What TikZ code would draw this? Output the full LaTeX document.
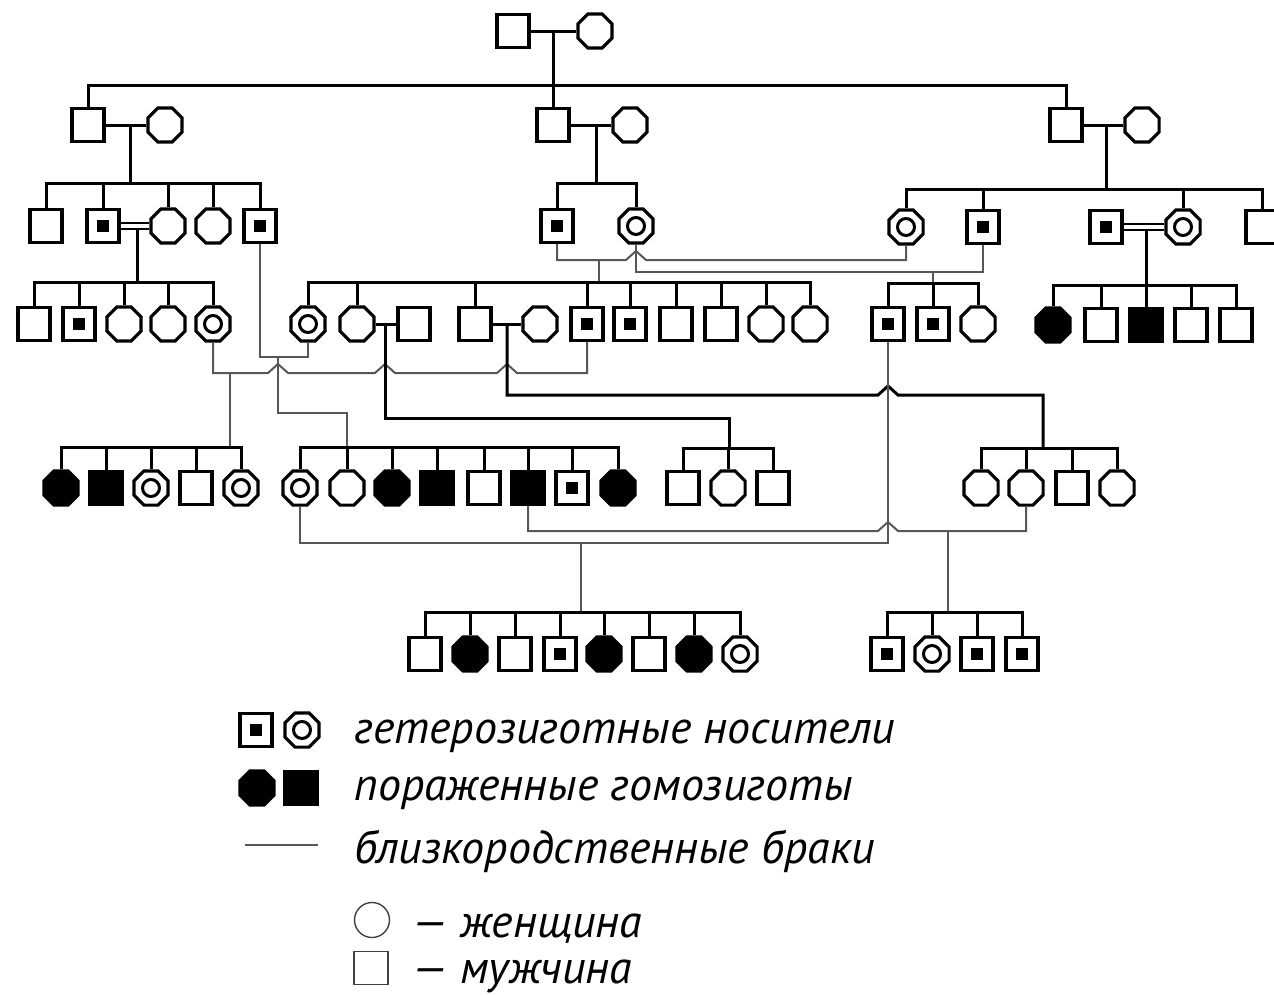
\documentclass[tikz,border=0pt]{standalone}
\usepackage{fontspec}
\setmainfont{PT Sans}
\usetikzlibrary{shapes.geometric}
% drops from a sibship line down to each child
\newcommand\pedDrops[2]{\foreach \c in {#2}{\draw[bl] (\c.north) -- (\c.north |- #1);}}
\begin{document}
\begin{tikzpicture}[x=1pt,y=-1pt,line join=miter,
  mal/.style={draw, rectangle, line width=3.2pt, minimum width=32pt, minimum height=33pt, inner sep=0pt, fill=white},
  fem/.style={draw, regular polygon, regular polygon sides=8, line width=3.2pt, minimum size=37pt, inner sep=0pt, fill=white},
  carm/.style={mal, path picture={\fill[black] (path picture bounding box.center) +(-6pt,-6pt) rectangle +(6pt,6pt);}},
  carf/.style={fem, path picture={\draw[line width=3pt] (path picture bounding box.center) circle (8.5pt); \fill (path picture bounding box.center) circle (5pt);}},
  affm/.style={mal, fill=black},
  afff/.style={fem, fill=black},
  bl/.style={line width=3pt, black},
  kin/.style={line width=2pt, black!66},
  dbl/.style={line width=2.2pt, double=white, double distance=3.2pt},
  lg/.style={anchor=base west, inner sep=0pt, font=\fontsize{46pt}{54pt}\selectfont\itshape}]
\useasboundingbox (0,0) rectangle (1274,994);

% ---------- generation I
\node[mal] (I1) at (513,31) {};
\node[fem] (I2) at (595,31) {};
% ---------- generation II
\node[mal] (IIa) at (88,125) {};
\node[fem] (IIb) at (165,125) {};
\node[mal] (IIc) at (553,125) {};
\node[fem] (IId) at (630,125) {};
\node[mal] (IIe) at (1066,125) {};
\node[fem] (IIf) at (1142,125) {};
% ---------- generation III
\node[mal]  (IIIa) at (46,226) {};
\node[carm] (IIIb) at (103,226) {};
\node[fem]  (IIIc) at (168,226) {};
\node[fem]  (IIId) at (213,226) {};
\node[carm] (IIIe) at (260,226) {};
\node[carm] (IIIf) at (557,226) {};
\node[carf] (IIIg) at (636,226) {};
\node[carf] (IIIh) at (906,227) {};
\node[carm] (IIIi) at (983,227) {};
\node[carm] (IIIj) at (1106,227) {};
\node[carf] (IIIk) at (1183,227) {};
\node[mal]  (IIIl) at (1262,227) {};
% ---------- generation IV
\node[mal]  (IVa) at (34,324) {};
\node[carm] (IVb) at (79,324) {};
\node[fem]  (IVc) at (124,324) {};
\node[fem]  (IVd) at (168,324) {};
\node[carf] (IVe) at (213,324) {};
\node[carf] (IVf) at (308,324) {};
\node[fem]  (IVg) at (357,324) {};
\node[mal]  (IVh) at (414,324) {};
\node[mal]  (IVi) at (475,324) {};
\node[fem]  (IVj) at (540,324) {};
\node[carm] (IVk) at (587,324) {};
\node[carm] (IVl) at (630,324) {};
\node[mal]  (IVm) at (676,324) {};
\node[mal]  (IVn) at (721,324) {};
\node[fem]  (IVo) at (766,324) {};
\node[fem]  (IVp) at (810,324) {};
\node[carm] (IVq) at (888,324) {};
\node[carm] (IVr) at (933,324) {};
\node[fem]  (IVs) at (978,324) {};
\node[afff] (IVt) at (1053,325) {};
\node[mal]  (IVu) at (1101,325) {};
\node[affm] (IVv) at (1146,325) {};
\node[mal]  (IVw) at (1191,325) {};
\node[mal]  (IVx) at (1236,325) {};
% ---------- generation V
\node[afff] (Va1) at (61,488) {};
\node[affm] (Va2) at (106,488) {};
\node[carf] (Va3) at (151,488) {};
\node[mal]  (Va4) at (196,488) {};
\node[carf] (Va5) at (241,488) {};
\node[carf] (Vb1) at (300,488) {};
\node[fem]  (Vb2) at (347,488) {};
\node[afff] (Vb3) at (392,488) {};
\node[affm] (Vb4) at (437,488) {};
\node[mal]  (Vb5) at (484,488) {};
\node[affm] (Vb6) at (528,488) {};
\node[carm] (Vb7) at (572,488) {};
\node[afff] (Vb8) at (618,488) {};
\node[mal]  (Vc1) at (683,488) {};
\node[fem]  (Vc2) at (728,488) {};
\node[mal]  (Vc3) at (773,488) {};
\node[fem]  (Vd1) at (981,488) {};
\node[fem]  (Vd2) at (1026,488) {};
\node[mal]  (Vd3) at (1072,488) {};
\node[fem]  (Vd4) at (1117,488) {};
% ---------- generation VI
\node[mal]  (VIa1) at (425,654) {};
\node[afff] (VIa2) at (470,654) {};
\node[mal]  (VIa3) at (515,654) {};
\node[carm] (VIa4) at (560,654) {};
\node[afff] (VIa5) at (604,654) {};
\node[mal]  (VIa6) at (649,654) {};
\node[afff] (VIa7) at (694,654) {};
\node[carf] (VIa8) at (740,654) {};
\node[carm] (VIb1) at (887,654) {};
\node[carf] (VIb2) at (932,654) {};
\node[carm] (VIb3) at (977,654) {};
\node[carm] (VIb4) at (1022,654) {};

% ---------- marriage and sibship points
\coordinate (dI) at (553,31);     \coordinate (sI) at (553,85);
\coordinate (dIIl) at (130,125);  \coordinate (sIIl) at (130,183);
\coordinate (dIIm) at (596,125);  \coordinate (sIIm) at (596,183);
\coordinate (dIIr) at (1106,125); \coordinate (sIIr) at (1106,189);
\coordinate (dIIIl) at (137,226); \coordinate (sIIIl) at (137,282);
\coordinate (dIIIr) at (1146,227);\coordinate (sIIIr) at (1146,285);
\coordinate (dFH) at (599,260);   \coordinate (sFH) at (599,282);
\coordinate (dGI) at (933,272);   \coordinate (sGI) at (933,283);
\coordinate (dEF) at (278,357);   \coordinate (sEF) at (347,447);
\coordinate (dEK) at (230,373);   \coordinate (sEK) at (230,447);
\coordinate (dGH) at (385,324);   \coordinate (sGH) at (729,448);
\coordinate (dIJ) at (507,324);   \coordinate (sIJ) at (1043,448);
\coordinate (dQB) at (581,543);   \coordinate (sQB) at (581,612);
\coordinate (dBD) at (948,531);   \coordinate (sBD) at (948,612);

% ---------- generation I -> II
\draw[bl] (I1) -- (I2);
\draw[bl] (dI) -- (IIc.north);
\draw[bl] (IIa.north) |- (sI) -| (IIe.north);

% ---------- generation II -> III
\draw[bl] (IIa) -- (IIb);
\draw[bl] (dIIl) -- (sIIl);
\draw[bl] (IIIa.north) |- (sIIl) -| (IIIe.north);
\pedDrops{sIIl}{IIIb,IIIc,IIId}
\draw[bl] (IIc) -- (IId);
\draw[bl] (dIIm) -- (sIIm);
\draw[bl] (IIIf.north) |- (sIIm) -| (IIIg.north);
\draw[bl] (IIe) -- (IIf);
\draw[bl] (dIIr) -- (sIIr);
\draw[bl] (IIIh.north) |- (sIIr) -| (IIIl.north);
\pedDrops{sIIr}{IIIi,IIIk}

% ---------- generation III -> IV
\draw[bl] (dIIIl) -- (sIIIl);
\draw[dbl] (IIIb) -- (IIIc);
\draw[bl] (IVa.north) |- (sIIIl) -| (IVe.north);
\pedDrops{sIIIl}{IVb,IVc,IVd}
\draw[bl] (dIIIr) -- (sIIIr);
\draw[dbl] (IIIj) -- (IIIk);
\draw[bl] (IVt.north) |- (sIIIr) -| (IVx.north);
\pedDrops{sIIIr}{IVu,IVv,IVw}
\draw[kin] (IIIf.south) |- (626,260) -- (636,251) -- (646,260) -| (IIIh.south);
\draw[kin] (dFH) -- (sFH);
\draw[bl] (IVf.north) |- (sFH) -| (IVp.north);
\pedDrops{sFH}{IVg,IVi,IVk,IVl,IVm,IVn,IVo}
\draw[kin] (IIIg.south) |- (dGI) -| (IIIi.south);
\draw[kin] (dGI) -- (sGI);
\draw[bl] (IVq.north) |- (sGI) -| (IVs.north);
\pedDrops{sGI}{IVr}

% ---------- generation IV -> V
\draw[kin] (IIIe.south) |- (dEF) -| (IVf.south);
\draw[kin] (dEF) -- (278,413) -| (sEF);
\draw[bl] (Vb1.north) |- (sEF) -| (Vb8.north);
\pedDrops{sEF}{Vb2,Vb3,Vb4,Vb5,Vb6,Vb7}
\draw[kin] (IVe.south) |- (268,373) -- (278,364) -- (288,373) -- (375,373) -- (385,364) -- (395,373)
   -- (497,373) -- (507,364) -- (517,373) -| (IVk.south);
\draw[kin] (dEK) -- (sEK);
\draw[bl] (Va1.north) |- (sEK) -| (Va5.north);
\pedDrops{sEK}{Va2,Va3,Va4}
\draw[bl] (IVg) -- (IVh);
\draw[bl] (dGH) |- (729,418) -- (sGH);
\draw[bl] (Vc1.north) |- (sGH) -| (Vc3.north);
\pedDrops{sGH}{Vc2}
\draw[bl] (IVi) -- (IVj);
\draw[bl] (dIJ) |- (878,395) -- (888,386) -- (898,395) -| (sIJ);
\draw[bl] (Vd1.north) |- (sIJ) -| (Vd4.north);
\pedDrops{sIJ}{Vd2,Vd3}

% ---------- generation V -> VI
\draw[kin] (IVq.south) |- (dQB) -| (Vb1.south);
\draw[kin] (dQB) -- (sQB);
\draw[bl] (VIa1.north) |- (sQB) -| (VIa8.north);
\pedDrops{sQB}{VIa2,VIa3,VIa4,VIa5,VIa6,VIa7}
\draw[kin] (Vb6.south) |- (878,531) -- (888,522) -- (898,531) -| (Vd2.south);
\draw[kin] (dBD) -- (sBD);
\draw[bl] (VIb1.north) |- (sBD) -| (VIb4.north);
\pedDrops{sBD}{VIb2,VIb3}

% ---------- legend
\node[carm] (Lc1) at (256,730) {};
\node[carf] (Lc2) at (302,730) {};
\node[afff] (La1) at (257,788) {};
\node[affm] (La2) at (301,788) {};
\coordinate (Lk1) at (245,845);
\coordinate (Lk2) at (318,845);
\draw[kin] (Lk1) -- (Lk2);
\node[lg] (T1) at (354,743) {гетерозиготные носители};
\node[lg] (T2) at (354,800) {пораженные гомозиготы};
\node[lg] (T3) at (354,863) {близкородственные браки};
\node[draw=black!75, line width=1.4pt, circle, minimum size=35pt, inner sep=0pt] (Lf) at (372,920) {};
\node[draw=black!75, line width=1.4pt, rectangle, minimum width=34pt, minimum height=33pt, inner sep=0pt] (Lm) at (371,968) {};
\node[lg] (T4) at (412,937) {— женщина};
\node[lg] (T5) at (412,983) {— мужчина};
\end{tikzpicture}
\end{document}
